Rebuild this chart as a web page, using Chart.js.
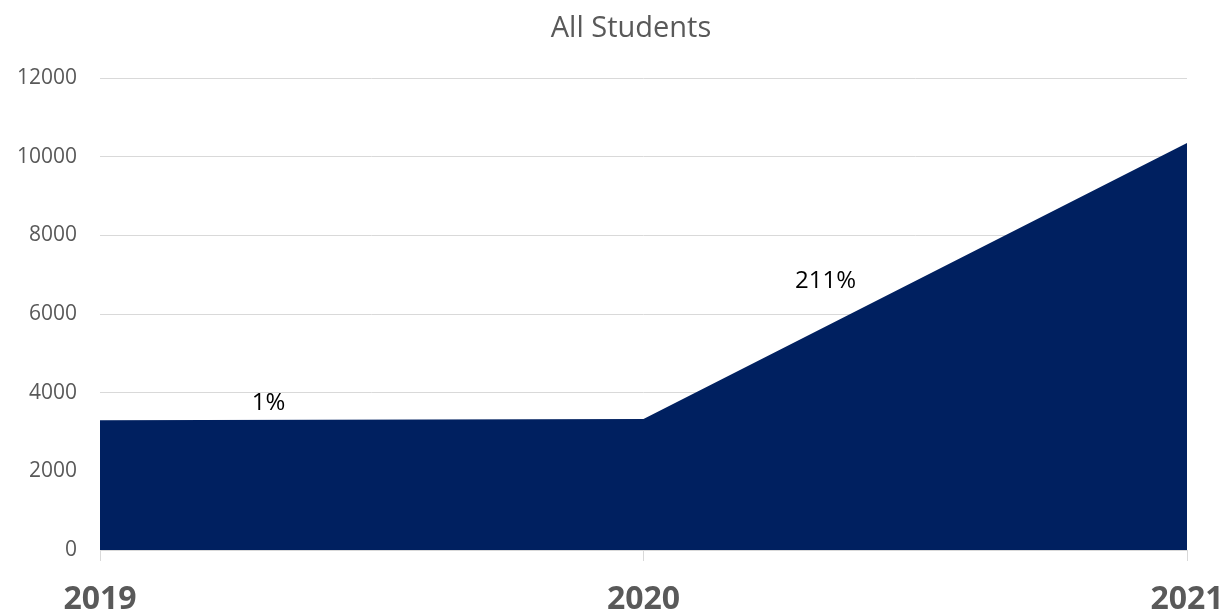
<!DOCTYPE html>
<html lang="en">
<head>
  <meta charset="UTF-8">
  <title>All Students</title>
  <script src="https://cdn.jsdelivr.net/npm/chart.js"></script>
  <style>
    html, body { margin: 0; padding: 0; background: #fff; }
    #wrap { width: 1229px; height: 616px; position: relative; }
  </style>
</head>
<body>
  <div id="wrap"><canvas id="studentsChart"></canvas></div>

  <script>
    const years = ['2019', '2020', '2021'];
    const students = [3300, 3330, 10350];
    const yTicks = [0, 2000, 4000, 6000, 8000, 10000, 12000];

    const grey = '#595959';
    const gridGrey = '#d9d9d9';
    const navy = '#002060';

    // title drawn over the plot, slightly left of centre
    const titlePlugin = {
      id: 'titleText',
      afterDraw(chart) {
        const ctx = chart.ctx;
        ctx.save();
        ctx.font = '29px "Open Sans"';
        ctx.fillStyle = grey;
        ctx.textAlign = 'center';
        ctx.textBaseline = 'middle';
        ctx.fillText('All Students', 631, 29);
        ctx.restore();
      }
    };

    // year-over-year growth written above each segment
    const growthPlugin = {
      id: 'growthText',
      afterDatasetsDraw(chart) {
        const ctx = chart.ctx;
        const x = chart.scales.x;
        const y = chart.scales.y;
        const spots = [{ t: 0.31, v: 3740 }, { t: 0.335, v: 6830 }];
        ctx.save();
        ctx.font = '24px "Open Sans"';
        ctx.fillStyle = '#000';
        ctx.textAlign = 'center';
        ctx.textBaseline = 'middle';
        for (let i = 0; i < students.length - 1; i++) {
          const pct = Math.round((students[i + 1] - students[i]) / students[i] * 100);
          const px = x.getPixelForValue(i + spots[i].t);
          const py = y.getPixelForValue(spots[i].v);
          ctx.fillText(pct + '%', px, py);
        }
        ctx.restore();
      }
    };

    const ctx = document.getElementById('studentsChart').getContext('2d');
    new Chart(ctx, {
      type: 'line',
      data: {
        labels: years,
        datasets: [{
          label: 'All Students',
          data: students,
          fill: 'origin',
          backgroundColor: navy,
          borderColor: navy,
          borderWidth: 0,
          pointRadius: 0,
          tension: 0
        }]
      },
      options: {
        responsive: true,
        maintainAspectRatio: false,
        animation: false,
        layout: { padding: { top: 78, right: 42, left: 0, bottom: 0 } },
        plugins: {
          legend: { display: false },
          tooltip: { enabled: false },
          title: { display: false }
        },
        scales: {
          x: {
            type: 'category',
            offset: false,
            grid: {
              drawOnChartArea: false,
              drawTicks: true,
              tickLength: 11,
              color: gridGrey
            },
            border: { color: gridGrey, width: 1 },
            ticks: {
              color: grey,
              font: { family: 'Open Sans', size: 32, weight: 'bold' },
              padding: 20,
              maxRotation: 0
            },
            afterFit(scale) {
              scale.height = 66;
              scale.paddingLeft = 0;
              scale.paddingRight = 0;
            }
          },
          y: {
            min: 0,
            max: 12000,
            afterBuildTicks(scale) {
              scale.ticks = yTicks.map(v => ({ value: v }));
            },
            grid: { color: gridGrey, drawTicks: false, lineWidth: 1 },
            border: { display: false },
            ticks: {
              color: grey,
              font: { family: 'Open Sans', size: 21 },
              padding: 23,
              callback: v => String(v)
            },
            afterFit(scale) { scale.width = 100; }
          }
        }
      },
      plugins: [titlePlugin, growthPlugin]
    });
  </script>
</body>
</html>
